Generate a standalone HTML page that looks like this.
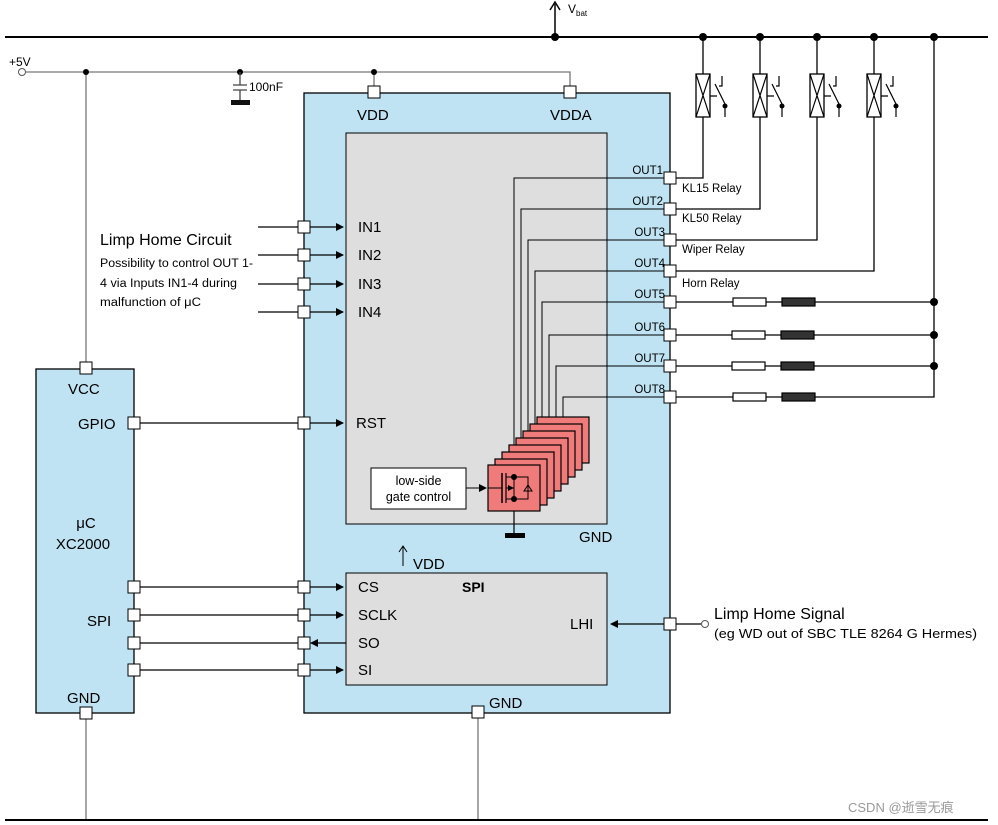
<!DOCTYPE html>
<html><head><meta charset="utf-8"><style>
body{margin:0;background:#fff}
svg{display:block}
text{font-family:"Liberation Sans",sans-serif;fill:#000}
</style></head><body>
<svg width="998" height="825" viewBox="0 0 998 825" xmlns="http://www.w3.org/2000/svg">
<defs>
<marker id="ar" markerWidth="8" markerHeight="8" refX="7" refY="4" orient="auto" markerUnits="userSpaceOnUse"><path d="M0,0 L8,4 L0,8 z" fill="#000"/></marker>
<g id="mos">
<rect x="0" y="0" width="52" height="46" fill="#f07b7b" stroke="#000" stroke-width="1.2"/>
<line x1="14" y1="8" x2="14" y2="38" stroke="#000" stroke-width="1.5"/>
<line x1="18" y1="8" x2="18" y2="38" stroke="#000" stroke-width="1.2"/>
<path d="M18,12 H26 M18,23 H26 M18,34 H26 M26,12 V34" stroke="#000" fill="none"/>
<circle cx="26" cy="12" r="3" fill="#000"/><circle cx="26" cy="34" r="3" fill="#000"/>
<path d="M26,23 L20,20 L20,26 z" fill="#000"/>
<path d="M26,12 H40 V34 H26 M36,26 H44 M40,20 L36,26 H44 z" stroke="#000" fill="none"/>
<line x1="0" y1="23" x2="14" y2="23" stroke="#000"/>
</g>
</defs>

<line x1="5" y1="37" x2="988" y2="37" stroke="#000" stroke-width="2"/>
<line x1="555" y1="37" x2="555" y2="4" stroke="#000" stroke-width="1.5"/>
<path d="M550,10 L555,2 L560,10" stroke="#000" fill="none" stroke-width="1.5"/>
<circle cx="555" cy="37" r="4" fill="#000"/>
<text x="568" y="13" font-size="12">V<tspan font-size="8" dy="3">bat</tspan></text>

<text x="9" y="66" font-size="12">+5V</text>
<circle cx="22" cy="72" r="3.5" fill="#fff" stroke="#555"/>
<path d="M26,72 H570 V92 M86,72 V368 M374,72 V92" stroke="#777" stroke-width="1.3" fill="none"/>
<circle cx="86" cy="72" r="3" fill="#000"/><circle cx="240" cy="72" r="3" fill="#000"/><circle cx="374" cy="72" r="3" fill="#000"/>
<path d="M240,72 V85 M233,85 H247 M233,90 H247 M240,90 V100" stroke="#444" stroke-width="1.3"/>
<rect x="231" y="100" width="19" height="5" fill="#111"/>
<text x="249" y="91" font-size="12">100nF</text>

<rect x="304" y="93" width="366" height="620" fill="#bfe3f2" stroke="#000" stroke-width="1.3"/>
<rect x="346" y="133" width="261" height="391" fill="#dedede" stroke="#000" stroke-width="1"/>
<rect x="368" y="86" width="12" height="12" fill="#fff" stroke="#000"/>
<rect x="564" y="86" width="12" height="12" fill="#fff" stroke="#000"/>
<text x="357" y="120" font-size="15">VDD</text>
<text x="550" y="120" font-size="15">VDDA</text>

<g stroke="#000" stroke-width="1.2">
<line x1="258" y1="227" x2="299" y2="227"/><line x1="309" y1="227" x2="343" y2="227" marker-end="url(#ar)"/>
<line x1="258" y1="255" x2="299" y2="255"/><line x1="309" y1="255" x2="343" y2="255" marker-end="url(#ar)"/>
<line x1="258" y1="284" x2="299" y2="284"/><line x1="309" y1="284" x2="343" y2="284" marker-end="url(#ar)"/>
<line x1="258" y1="312" x2="299" y2="312"/><line x1="309" y1="312" x2="343" y2="312" marker-end="url(#ar)"/>
<line x1="139" y1="423" x2="299" y2="423"/><line x1="309" y1="423" x2="343" y2="423" marker-end="url(#ar)"/>
</g>
<g fill="#fff" stroke="#000">
<rect x="298" y="221" width="12" height="12"/><rect x="298" y="249" width="12" height="12"/>
<rect x="298" y="278" width="12" height="12"/><rect x="298" y="306" width="12" height="12"/>
<rect x="298" y="417" width="12" height="12"/>
</g>
<text x="358" y="232" font-size="15">IN1</text>
<text x="358" y="260" font-size="15">IN2</text>
<text x="358" y="289" font-size="15">IN3</text>
<text x="358" y="317" font-size="15">IN4</text>
<text x="356" y="428" font-size="15">RST</text>

<text x="100" y="245" font-size="16">Limp Home Circuit</text>
<text x="100" y="267" font-size="11.5" textLength="153" lengthAdjust="spacingAndGlyphs">Possibility to control OUT 1-</text>
<text x="100" y="287" font-size="11.5" textLength="137" lengthAdjust="spacingAndGlyphs">4 via Inputs IN1-4 during</text>
<text x="100" y="306" font-size="11.5" textLength="101" lengthAdjust="spacingAndGlyphs">malfunction of μC</text>

<g stroke="#000" stroke-width="1" fill="none">
<path d="M514,470 V178 H665"/>
<path d="M521,463 V209 H665"/>
<path d="M528,456 V240 H665"/>
<path d="M535,449 V271 H665"/>
<path d="M542,442 V302 H665"/>
<path d="M549,435 V335 H665"/>
<path d="M556,428 V366 H665"/>
<path d="M563,421 V397 H665"/>
</g>
<use href="#mos" x="537" y="417"/>
<use href="#mos" x="530" y="424"/>
<use href="#mos" x="523" y="431"/>
<use href="#mos" x="516" y="438"/>
<use href="#mos" x="509" y="445"/>
<use href="#mos" x="502" y="452"/>
<use href="#mos" x="495" y="459"/>
<use href="#mos" x="488" y="465"/>
<line x1="514" y1="511" x2="514" y2="535" stroke="#000" stroke-width="1.2"/>
<rect x="505" y="533" width="20" height="5" fill="#000"/>
<rect x="371" y="468" width="95" height="41" fill="#fff" stroke="#000"/>
<text x="418.5" y="485" font-size="12.5" text-anchor="middle">low-side</text>
<text x="418.5" y="501" font-size="12.5" text-anchor="middle">gate control</text>
<line x1="466" y1="488" x2="486" y2="488" stroke="#000" marker-end="url(#ar)"/>
<text x="579" y="542" font-size="15">GND</text>

<g font-size="11.5" text-anchor="end">
<text x="663" y="174">OUT1</text><text x="663" y="205">OUT2</text><text x="665" y="236">OUT3</text><text x="665" y="267">OUT4</text>
<text x="665" y="298">OUT5</text><text x="665" y="331">OUT6</text><text x="665" y="362">OUT7</text><text x="665" y="393">OUT8</text>
</g>
<g font-size="11.5">
<text x="682" y="192">KL15 Relay</text><text x="682" y="222">KL50 Relay</text>
<text x="682" y="253">Wiper Relay</text><text x="682" y="287">Horn Relay</text>
</g>

<g stroke="#000" stroke-width="1.3" fill="none">
<path d="M675,178 H703 V117 M703,74 V37"/>
<path d="M675,209 H760 V117 M760,74 V37"/>
<path d="M675,240 H817 V117 M817,74 V37"/>
<path d="M675,271 H874 V117 M874,74 V37"/>
<path d="M934,37 V397 H675 M675,302 H934 M675,335 H934 M675,366 H934"/>
</g>
<g stroke="#000" stroke-width="1.3" fill="#fff">
<rect x="696" y="74" width="14" height="43"/><rect x="753" y="74" width="14" height="43"/>
<rect x="810" y="74" width="14" height="43"/><rect x="867" y="74" width="14" height="43"/>
</g>
<g stroke="#000" stroke-width="1.2" fill="none">
<path d="M696,74 L710,117 M710,74 L696,117 M710,96 H717 M715,84 L725,104 M725,104 V117 M722,76 V86 H719"/>
<path d="M753,74 L767,117 M767,74 L753,117 M767,96 H774 M772,84 L782,104 M782,104 V117 M779,76 V86 H776"/>
<path d="M810,74 L824,117 M824,74 L810,117 M824,96 H831 M829,84 L839,104 M839,104 V117 M836,76 V86 H833"/>
<path d="M867,74 L881,117 M881,74 L867,117 M881,96 H888 M886,84 L896,104 M896,104 V117 M893,76 V86 H890"/>
</g>
<g fill="#000"><circle cx="725" cy="106" r="2.5"/><circle cx="782" cy="106" r="2.5"/><circle cx="839" cy="106" r="2.5"/><circle cx="896" cy="106" r="2.5"/>
<circle cx="703" cy="37" r="4"/><circle cx="760" cy="37" r="4"/><circle cx="817" cy="37" r="4"/><circle cx="874" cy="37" r="4"/><circle cx="934" cy="37" r="4"/>
<circle cx="934" cy="302" r="4"/><circle cx="934" cy="335" r="4"/><circle cx="934" cy="366" r="4"/></g>
<g stroke="#000" stroke-width="1.2">
<rect x="733" y="298" width="33" height="8" fill="#fff"/><rect x="782" y="298" width="33" height="8" fill="#333"/>
<rect x="732" y="331" width="33" height="8" fill="#fff"/><rect x="781" y="331" width="33" height="8" fill="#333"/>
<rect x="732" y="362" width="33" height="8" fill="#fff"/><rect x="781" y="362" width="33" height="8" fill="#333"/>
<rect x="733" y="393" width="33" height="8" fill="#fff"/><rect x="782" y="393" width="33" height="8" fill="#333"/>
</g>
<g fill="#fff" stroke="#000">
<rect x="664" y="172" width="12" height="12"/><rect x="664" y="203" width="12" height="12"/>
<rect x="664" y="234" width="12" height="12"/><rect x="664" y="265" width="12" height="12"/>
<rect x="664" y="296" width="12" height="12"/><rect x="664" y="329" width="12" height="12"/>
<rect x="664" y="360" width="12" height="12"/><rect x="664" y="391" width="12" height="12"/>
</g>

<rect x="346" y="573" width="261" height="112" fill="#dedede" stroke="#000"/>
<line x1="403" y1="566" x2="403" y2="546" stroke="#000"/>
<path d="M399,552 L403,546 L407,552" stroke="#000" fill="none"/>
<text x="413" y="569" font-size="15">VDD</text>
<text x="462" y="592" font-size="14" font-weight="bold">SPI</text>
<g stroke="#000" stroke-width="1.2">
<line x1="139" y1="587" x2="299" y2="587"/><line x1="309" y1="587" x2="343" y2="587" marker-end="url(#ar)"/>
<line x1="139" y1="615" x2="299" y2="615"/><line x1="309" y1="615" x2="343" y2="615" marker-end="url(#ar)"/>
<line x1="139" y1="643" x2="299" y2="643"/><line x1="346" y1="643" x2="311" y2="643" marker-end="url(#ar)"/>
<line x1="139" y1="670" x2="299" y2="670"/><line x1="309" y1="670" x2="343" y2="670" marker-end="url(#ar)"/>
<line x1="665" y1="624" x2="611" y2="624" marker-end="url(#ar)"/>
<line x1="675" y1="624" x2="701" y2="624"/>
</g>
<g fill="#fff" stroke="#000">
<rect x="298" y="581" width="12" height="12"/><rect x="298" y="609" width="12" height="12"/>
<rect x="298" y="637" width="12" height="12"/><rect x="298" y="664" width="12" height="12"/>
<rect x="664" y="618" width="12" height="12"/>
</g>
<circle cx="705" cy="624" r="3.5" fill="#fff" stroke="#555"/>
<text x="358" y="592" font-size="15">CS</text>
<text x="358" y="620" font-size="15">SCLK</text>
<text x="358" y="648" font-size="15">SO</text>
<text x="358" y="675" font-size="15">SI</text>
<text x="570" y="629" font-size="15">LHI</text>
<text x="714" y="619" font-size="16">Limp Home Signal</text>
<text x="714" y="638" font-size="12.5" textLength="263" lengthAdjust="spacingAndGlyphs">(eg WD out of SBC TLE  8264 G Hermes)</text>

<line x1="478" y1="718" x2="478" y2="820" stroke="#777" stroke-width="1.3"/>
<rect x="472" y="706" width="12" height="12" fill="#fff" stroke="#000"/>
<text x="489" y="708" font-size="15">GND</text>

<rect x="36" y="369" width="98" height="344" fill="#bfe3f2" stroke="#000" stroke-width="1.3"/>
<line x1="86" y1="718" x2="86" y2="820" stroke="#777" stroke-width="1.3"/>
<g fill="#fff" stroke="#000">
<rect x="80" y="362" width="12" height="12"/><rect x="128" y="417" width="12" height="12"/>
<rect x="128" y="581" width="12" height="12"/><rect x="128" y="609" width="12" height="12"/>
<rect x="128" y="637" width="12" height="12"/><rect x="128" y="664" width="12" height="12"/>
<rect x="80" y="707" width="12" height="12"/>
</g>
<text x="68" y="394" font-size="15">VCC</text>
<text x="78" y="429" font-size="15">GPIO</text>
<text x="86" y="528" font-size="15" text-anchor="middle">μC</text>
<text x="83" y="549" font-size="15" text-anchor="middle">XC2000</text>
<text x="87" y="626" font-size="15">SPI</text>
<text x="67" y="703" font-size="15">GND</text>

<line x1="5" y1="820" x2="988" y2="820" stroke="#000" stroke-width="2"/>
<text x="848" y="812" font-size="13" style="fill:#999;font-family:'Liberation Sans','Noto Sans CJK SC',sans-serif">CSDN @逝雪无痕</text>
</svg>
</body></html>
